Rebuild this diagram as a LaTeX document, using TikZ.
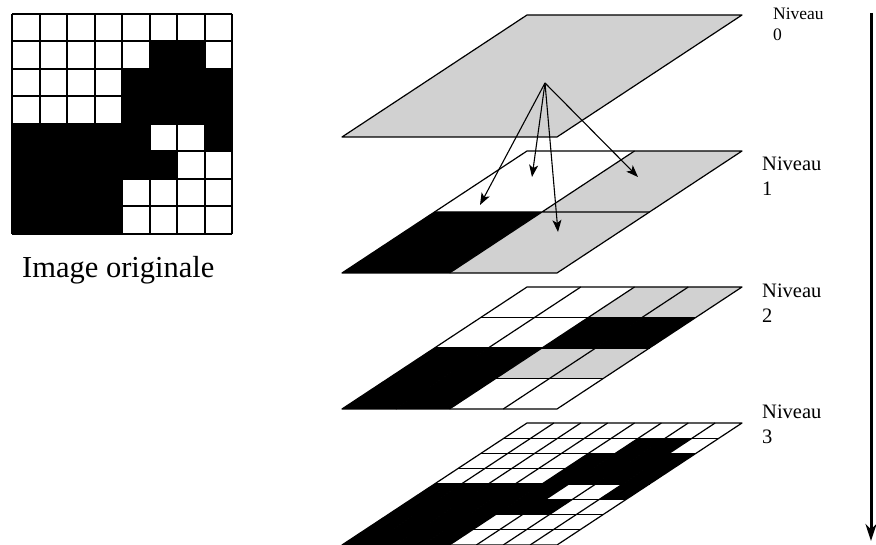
\documentclass[tikz,border=0pt]{standalone}
\usepackage{fontspec}
\setmainfont{Liberation Serif}
\usetikzlibrary{arrows.meta}
\newcommand\pcell[4]{\path[#4] ({#1*#3},{8-(#2+1)*#3}) -- ++(#3,0) -- ++(0,#3) -- ++(-#3,0) -- cycle;}
\begin{document}
\begin{tikzpicture}[x=1pt,y=-1pt,
  planeline/.style={line width=1.2pt, line join=round},
  greyfill/.style={fill=black!18},
  blackfill/.style={fill=black},
  smallarrow/.style={line width=1.1pt, -{Stealth[length=12pt,width=9pt,inset=3pt]}},
  bigarrow/.style={line width=3pt, -{Stealth[length=17pt,width=11pt]}},
  lab/.style={anchor=base west, inner sep=0pt, font=\fontsize{20.5}{25}\selectfont},
  lab0/.style={anchor=base west, inner sep=0pt, font=\fontsize{17.5}{21}\selectfont},
  plane/.style={shift={(342,#1)}, x={(26.875pt,0pt)}, y={(23.125pt,15.25pt)}}
]
\useasboundingbox (0,0) rectangle (876,545);

% ---------- original image ----------
\begin{scope}[shift={(12,14)}, x=27.5pt, y=-27.5pt]
  \fill (5,1) rectangle (7,2);
  \fill (4,2) rectangle (8,4);
  \fill (0,4) rectangle (5,6);
  \fill (7,4) rectangle (8,5);
  \fill (5,5) rectangle (6,6);
  \fill (0,6) rectangle (4,8);
  \foreach \i in {0,...,8} {
    \draw[line width=2pt] (\i,0) -- (\i,8);
    \draw[line width=2pt] (0,\i) -- (8,\i);
  }
\end{scope}
\node[anchor=base west, inner sep=0pt, font=\fontsize{30.5}{36}\selectfont] (orig) at (22,278) {Image originale};

% ---------- level 0 ----------
\begin{scope}[plane=137]
  \path[greyfill] (0,0) -- (8,0) -- (8,8) -- (0,8) -- cycle;
  \draw[planeline] (0,0) -- (8,0) -- (8,8) -- (0,8) -- cycle;
\end{scope}

% ---------- level 1 ----------
\begin{scope}[plane=273]
  \pcell{1}{0}{4}{greyfill}
  \pcell{0}{1}{4}{blackfill}
  \pcell{1}{1}{4}{greyfill}
  \draw[planeline] (4,0) -- (4,8) (0,4) -- (8,4);
  \draw[planeline] (0,0) -- (8,0) -- (8,8) -- (0,8) -- cycle;
\end{scope}

% ---------- level 2 ----------
\begin{scope}[plane=409]
  \pcell{2}{0}{2}{greyfill}
  \pcell{3}{0}{2}{greyfill}
  \pcell{2}{1}{2}{blackfill}
  \pcell{3}{1}{2}{blackfill}
  \pcell{0}{2}{2}{blackfill}
  \pcell{1}{2}{2}{blackfill}
  \pcell{2}{2}{2}{greyfill}
  \pcell{3}{2}{2}{greyfill}
  \pcell{0}{3}{2}{blackfill}
  \pcell{1}{3}{2}{blackfill}
  \foreach \i in {2,4,6} {
    \draw[planeline] (\i,0) -- (\i,8);
    \draw[planeline] (0,\i) -- (8,\i);
  }
  \draw[planeline] (0,0) -- (8,0) -- (8,8) -- (0,8) -- cycle;
\end{scope}

% ---------- level 3 ----------
\begin{scope}[plane=545]
  \foreach \c/\r in {5/1,6/1,4/2,5/2,6/2,7/2,4/3,5/3,6/3,7/3,
                     0/4,1/4,2/4,3/4,4/4,7/4,0/5,1/5,2/5,3/5,4/5,5/5,
                     0/6,1/6,2/6,3/6,0/7,1/7,2/7,3/7} {
    \pcell{\c}{\r}{1}{blackfill}
  }
  \foreach \i in {1,...,7} {
    \draw[planeline] (\i,0) -- (\i,8);
    \draw[planeline] (0,\i) -- (8,\i);
  }
  \draw[planeline] (0,0) -- (8,0) -- (8,8) -- (0,8) -- cycle;
\end{scope}

% ---------- arrows ----------
\coordinate (apex) at (545,83);
\coordinate (t1) at (480,205);
\coordinate (t2) at (532,177);
\coordinate (t3) at (558,232);
\coordinate (t4) at (638,177);
\draw[smallarrow] (apex) -- (t1);
\draw[smallarrow] (apex) -- (t2);
\draw[smallarrow] (apex) -- (t3);
\draw[smallarrow] (apex) -- (t4);

% ---------- labels ----------
\node[lab0] (n0a) at (773,20) {Niveau};
\node[lab0] (n0b) at (773,41) {0};
\node[lab] (n1a) at (762,171) {Niveau};
\node[lab] (n1b) at (762,196) {1};
\node[lab] (n2a) at (762,298) {Niveau};
\node[lab] (n2b) at (762,323) {2};
\node[lab] (n3a) at (762,418) {Niveau};
\node[lab] (n3b) at (762,443) {3};

% ---------- vertical arrow ----------
\coordinate (vtop) at (871,13);
\coordinate (vbot) at (871,541);
\draw[bigarrow] (vtop) -- (vbot);
\end{tikzpicture}
\end{document}
